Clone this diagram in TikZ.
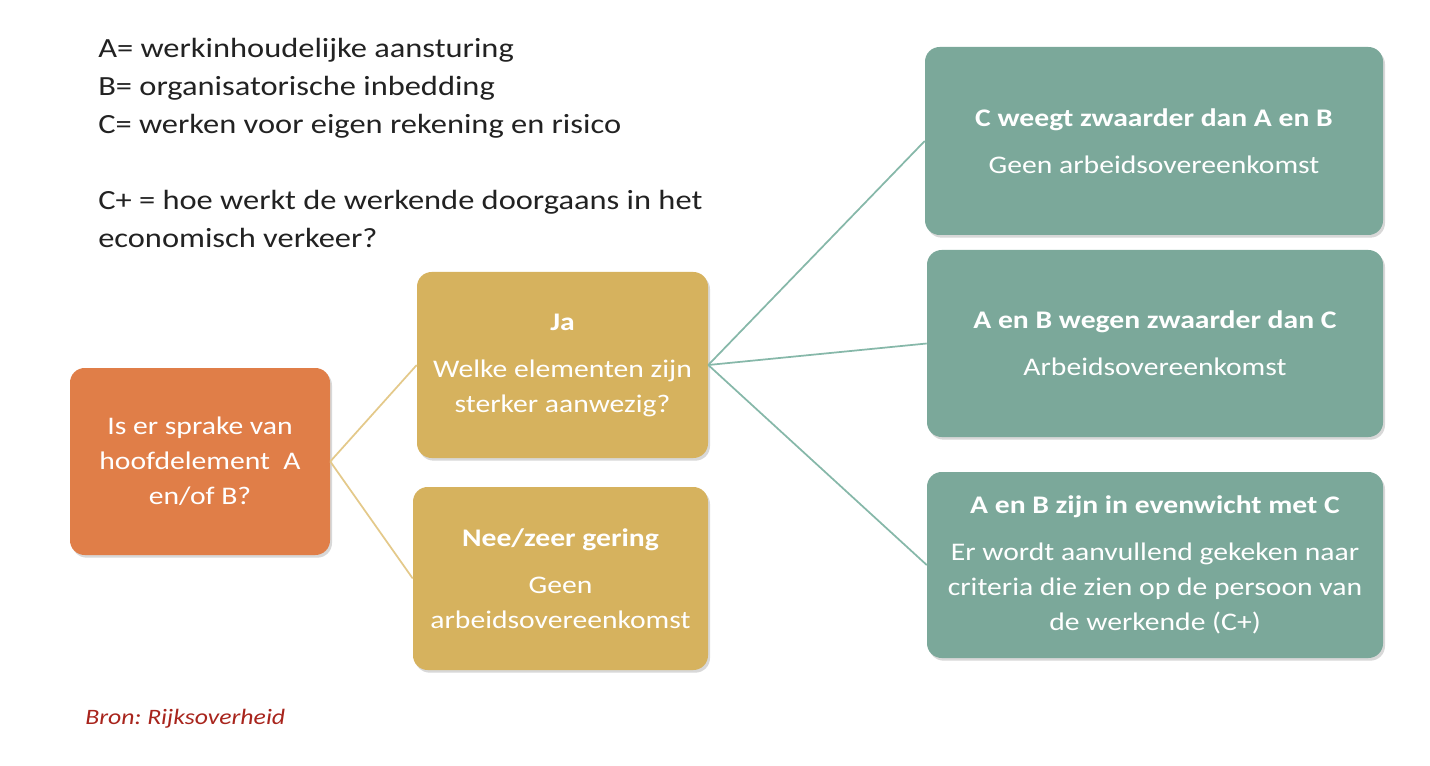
\documentclass[tikz,border=0pt]{standalone}
\usepackage{fontspec}
\setmainfont{Carlito}[FakeStretch=1.17]
\usetikzlibrary{shadows}
\definecolor{orangebox}{HTML}{E07E48}
\definecolor{goldbox}{HTML}{D6B25E}
\definecolor{tealbox}{HTML}{7BA89A}
\definecolor{goldline}{HTML}{E4C98A}
\definecolor{tealline}{HTML}{86B8A9}
\definecolor{bodytext}{HTML}{222222}
\definecolor{bronred}{HTML}{A8241C}
\tikzset{
  boxbase/.style={rectangle, rounded corners=11pt, draw=none, inner sep=0pt,
    align=center, text=white, font=\fontsize{19}{26.25}\selectfont,
    drop shadow={shadow xshift=1.5pt, shadow yshift=-2pt, opacity=0.25, fill=black!60}},
  orangenode/.style={boxbase, fill=orangebox},
  goldnode/.style={boxbase, fill=goldbox},
  tealnode/.style={boxbase, fill=tealbox},
  goldlink/.style={draw=goldline, line width=1.3pt},
  teallink/.style={draw=tealline, line width=1.3pt},
}
\newcommand{\ttl}[1]{\textbf{#1}\\[9pt]}
\begin{document}
\frenchspacing
\begin{tikzpicture}[x=0.75pt,y=-0.75pt]
\useasboundingbox (0,0) rectangle (1430,766);
\fill[white] (0,0) rectangle (1430,766);

% top-left legend
\node[anchor=north west, inner sep=0pt, align=left, text=bodytext,
      font=\fontsize{20.8}{28.5}\selectfont] (legend) at (98,37.5)
  {A= werkinhoudelijke aansturing\\
   B= organisatorische inbedding\\
   C= werken voor eigen rekening en risico\\[28.5pt]
   C+ = hoe werkt de werkende doorgaans in het\\
   economisch verkeer?};

% boxes
\node[orangenode, minimum width=195pt, minimum height=140.25pt] (q) at (200,461.5)
  {Is er sprake van\\hoofdelement~ A\\en/of B?};
\node[goldnode, minimum width=218.25pt, minimum height=139.5pt] (ja) at (562.5,365)
  {\ttl{Ja}Welke elementen zijn\\sterker aanwezig?};
\node[goldnode, minimum width=221.25pt, minimum height=137.25pt] (nee) at (560.5,578.5)
  {\ttl{Nee/zeer gering}Geen\\arbeidsovereenkomst};
\node[tealnode, minimum width=343.5pt, minimum height=141pt] (t1) at (1154,141)
  {\ttl{C weegt zwaarder dan A en B}Geen arbeidsovereenkomst};
\node[tealnode, minimum width=342pt, minimum height=140.25pt] (t2) at (1155,343.5)
  {\ttl{A en B wegen zwaarder dan C}Arbeidsovereenkomst};
\node[tealnode, minimum width=342pt, minimum height=139.5pt] (t3) at (1155,565)
  {\ttl{A en B zijn in evenwicht met C}Er wordt aanvullend gekeken naar\\criteria die zien op de persoon van\\de werkende (C+)};

% connectors
\draw[goldlink] (q.east) -- (ja.west);
\draw[goldlink] (q.east) -- (nee.west);
\draw[teallink] (ja.east) -- (t1.west);
\draw[teallink] (ja.east) -- (t2.west);
\draw[teallink] (ja.east) -- (t3.west);

% source
\node[anchor=base west, inner sep=0pt, text=bronred,
      font=\fontsize{16.5}{19}\selectfont\itshape] (bron) at (85,724) {Bron: Rijksoverheid};
\end{tikzpicture}
\end{document}
